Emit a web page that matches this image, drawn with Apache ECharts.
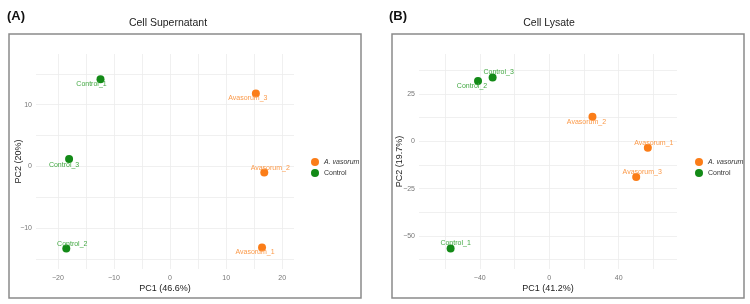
<!DOCTYPE html>
<html>
<head>
<meta charset="utf-8">
<script src="https://cdn.jsdelivr.net/npm/echarts@6/dist/echarts.min.js"></script>
<style>
  html, body { margin: 0; padding: 0; background: #fff; }
  #main { width: 750px; height: 304px; }
</style>
</head>
<body>
<div id="main"></div>
<script>
// Panel A: Cell Supernatant
var supNames = ['Avasorum_1', 'Avasorum_2', 'Avasorum_3', 'Control_1', 'Control_2', 'Control_3'];
var supPC1 = [16.4, 16.8, 15.3, -12.4, -18.5, -18.0];
var supPC2 = [-13.1, -1.0, 11.8, 14.1, -13.3, 1.2];
var supGroup = ['A. vasorum', 'A. vasorum', 'A. vasorum', 'Control', 'Control', 'Control'];

// Panel B: Cell Lysate
var lysNames = ['Avasorum_1', 'Avasorum_2', 'Avasorum_3', 'Control_1', 'Control_2', 'Control_3'];
var lysPC1 = [56.8, 24.9, 50.1, -56.8, -41.0, -32.6];
var lysPC2 = [-3.4, 13.0, -18.9, -56.7, 31.9, 33.7];
var lysGroup = ['A. vasorum', 'A. vasorum', 'A. vasorum', 'Control', 'Control', 'Control'];

var groups = ['A. vasorum', 'Control'];

// tick labels and grid lines
var supXTicks = [-20, -10, 0, 10, 20];
var supXGrid = [-20, -15, -10, -5, 0, 5, 10, 15, 20];
var supYTicks = [-10, 0, 10];
var supYGrid = [-15, -10, -5, 0, 5, 10, 15];
var lysXTicks = [-40, 0, 40];
var lysXGrid = [-60, -40, -20, 0, 20, 40, 60];
var lysYTicks = [-50, -25, 0, 25];
var lysYGrid = [-62.5, -50, -37.5, -25, -12.5, 0, 12.5, 25, 37.5];

// label placement (ggrepel-like nudges), px
var supLabelOffset = [[-7, 5], [6, -5], [-8, 5], [-9, 5], [6, -5], [-5, 6]];
var lysLabelOffset = [[6, -5], [-6, 5], [6, -5], [5, -5], [-6, 5], [6, -5]];

var pointColor = {'A. vasorum': '#fb7d18', 'Control': '#138a17'};
var labelColor = {'A. vasorum': '#fb9a4a', 'Control': '#43a843'};
var font = 'Liberation Sans, Arial, sans-serif';

function minusFmt(v) {
  return String(v).replace('-', '\u2212');
}

function buildSeries(names, pc1, pc2, grp, offsets, axisIndex) {
  return groups.map(function (g) {
    var items = [];
    for (var i = 0; i < names.length; i++) {
      if (grp[i] !== g) continue;
      items.push({
        name: names[i],
        value: [pc1[i], pc2[i]],
        label: {offset: offsets[i]}
      });
    }
    return {
      name: g,
      type: 'scatter',
      xAxisIndex: axisIndex,
      yAxisIndex: axisIndex,
      symbolSize: 8,
      itemStyle: {color: pointColor[g], opacity: 1},
      label: {
        show: true,
        position: 'inside',
        formatter: '{b}',
        color: labelColor[g],
        fontSize: 7,
        fontFamily: font
      },
      data: items,
      z: 3
    };
  });
}

function xAxis(idx, min, max, ticks, grid, name) {
  return {
    gridIndex: idx, type: 'value', min: min, max: max,
    name: name, nameLocation: 'middle', nameGap: 15, nameMoveOverlap: false,
    nameTextStyle: {color: '#222', fontSize: 9, fontFamily: font},
    axisLine: {show: false},
    axisTick: {show: false, customValues: grid},
    axisLabel: {customValues: ticks, formatter: minusFmt, color: '#777', fontSize: 7, fontFamily: font, margin: 6},
    splitLine: {show: true, lineStyle: {color: '#ececec', width: 0.8}}
  };
}

function yAxis(idx, min, max, ticks, grid, name, gap) {
  return {
    gridIndex: idx, type: 'value', min: min, max: max,
    name: name, nameLocation: 'middle', nameGap: gap, nameRotate: 90, nameMoveOverlap: false,
    nameTextStyle: {color: '#222', fontSize: 9, fontFamily: font},
    axisLine: {show: false},
    axisTick: {show: false, customValues: grid},
    axisLabel: {customValues: ticks, formatter: minusFmt, color: '#777', fontSize: 7, fontFamily: font, margin: 4},
    splitLine: {show: true, lineStyle: {color: '#ececec', width: 0.8}}
  };
}

var legendFmt = function (name) {
  return name === 'A. vasorum' ? '{i|A. vasorum}' : name;
};
var legendText = {color: '#333', fontSize: 7, fontFamily: font, rich: {i: {fontStyle: 'italic', fontSize: 7, color: '#333', fontFamily: font}}};

var option = {
  animation: false,
  backgroundColor: '#fff',
  title: [
    {text: '(A)', left: 2, top: 5, textStyle: {fontSize: 13, fontWeight: 'bold', color: '#111', fontFamily: font}},
    {text: '(B)', left: 384, top: 5, textStyle: {fontSize: 13, fontWeight: 'bold', color: '#111', fontFamily: font}},
    {text: 'Cell Supernatant', left: 163, top: 13, textAlign: 'center', textStyle: {fontSize: 10.5, fontWeight: 'normal', color: '#222', fontFamily: font}},
    {text: 'Cell Lysate', left: 544, top: 13, textAlign: 'center', textStyle: {fontSize: 10.5, fontWeight: 'normal', color: '#222', fontFamily: font}}
  ],
  graphic: [
    {type: 'rect', shape: {x: 9, y: 34, width: 352, height: 264}, style: {fill: 'none', stroke: '#8a8a8a', lineWidth: 1.5}, silent: true},
    {type: 'rect', shape: {x: 392, y: 34, width: 352, height: 264}, style: {fill: 'none', stroke: '#8a8a8a', lineWidth: 1.5}, silent: true}
  ],
  legend: [
    {data: groups, left: 306, top: 153, orient: 'vertical', icon: 'circle', itemWidth: 8, itemHeight: 8, itemGap: 3,
     formatter: legendFmt, textStyle: legendText, selectedMode: false},
    {data: groups, left: 690, top: 153, orient: 'vertical', icon: 'circle', itemWidth: 8, itemHeight: 8, itemGap: 3,
     formatter: legendFmt, textStyle: legendText, selectedMode: false}
  ],
  grid: [
    {left: 36, top: 54, width: 258, height: 215},
    {left: 419, top: 54, width: 258, height: 215}
  ],
  xAxis: [
    xAxis(0, -23.9, 22.1, supXTicks, supXGrid, 'PC1 (46.6%)'),
    xAxis(1, -75, 73.6, lysXTicks, lysXGrid, 'PC1 (41.2%)')
  ],
  yAxis: [
    yAxis(0, -16.6, 18.2, supYTicks, supYGrid, 'PC2 (20%)', 13),
    yAxis(1, -67.5, 46.1, lysYTicks, lysYGrid, 'PC2 (19.7%)', 15)
  ],
  series: buildSeries(supNames, supPC1, supPC2, supGroup, supLabelOffset, 0)
    .concat(buildSeries(lysNames, lysPC1, lysPC2, lysGroup, lysLabelOffset, 1))
};

var chart = echarts.init(document.getElementById('main'), null, {renderer: 'canvas'});
chart.setOption(option);
</script>
</body>
</html>
